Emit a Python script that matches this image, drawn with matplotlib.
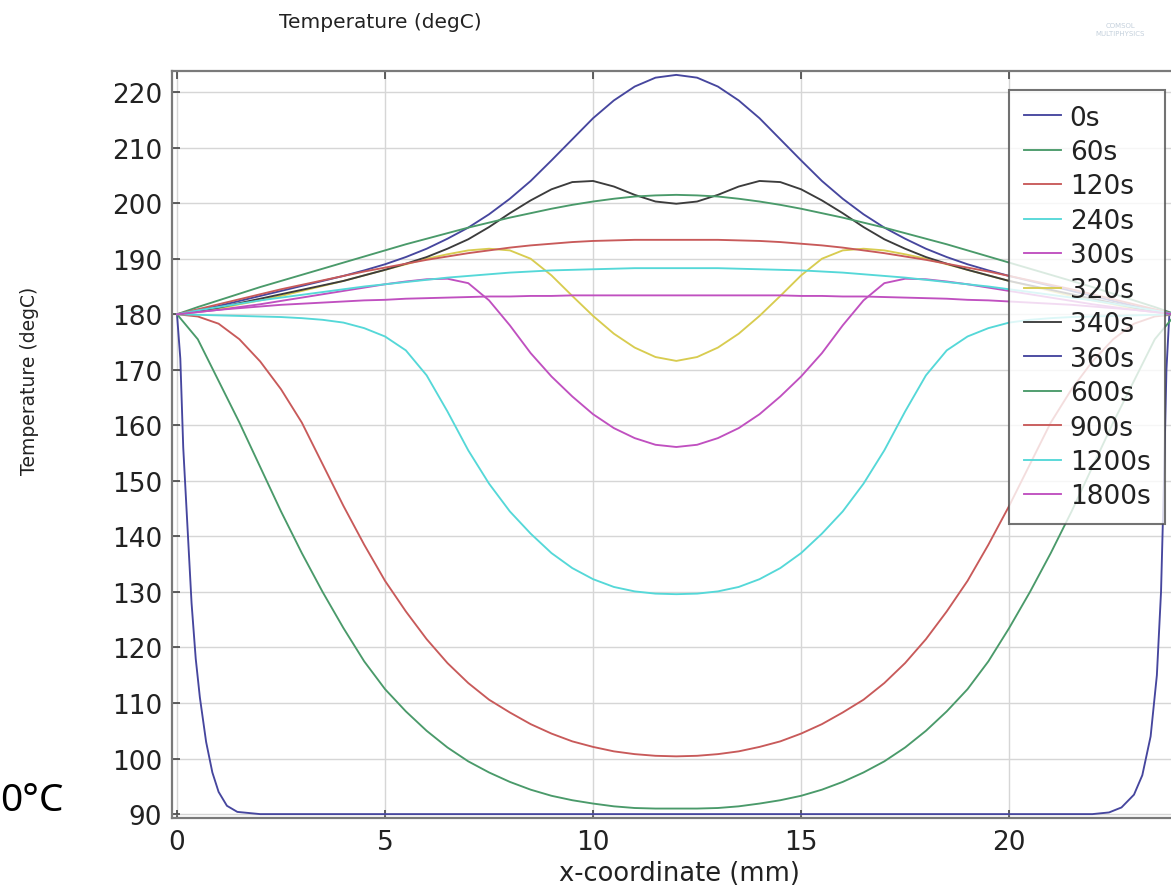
import matplotlib
matplotlib.use('Agg')
import matplotlib.pyplot as plt

# x positions (mm) shared by every profile except the initial one
x_mm = [0, 0.5, 1, 1.5, 2, 2.5, 3, 3.5, 4, 4.5, 5, 5.5, 6, 6.5, 7, 7.5, 8, 8.5, 9, 9.5,
        10, 10.5, 11, 11.5, 12, 12.5, 13, 13.5, 14, 14.5, 15, 15.5, 16, 16.5, 17, 17.5,
        18, 18.5, 19, 19.5, 20, 20.5, 21, 21.5, 22, 22.5, 23, 23.5, 24]

# initial profile (0s) has steep edges, so it gets its own x positions
x_0s = [0, 0.08, 0.15, 0.25, 0.35, 0.45, 0.55, 0.7, 0.85, 1.0, 1.2, 1.45, 2,
        22, 22.4, 22.7, 23.0, 23.2, 23.4, 23.55, 23.65, 23.72, 23.78, 23.85]
T_0s = [180, 172, 156, 142, 128, 118, 111, 103, 97.5, 94, 91.5, 90.4, 90,
        90, 90.3, 91.2, 93.5, 97, 104, 115, 130, 150, 170, 180]

T_60s = [180, 175.5, 168, 160.5, 152.5, 144.5, 137, 130, 123.5, 117.5, 112.5, 108.5, 105, 102,
         99.5, 97.5, 95.8, 94.4, 93.3, 92.5, 91.9, 91.4, 91.1, 91, 91,
         91, 91.1, 91.4, 91.9, 92.5, 93.3, 94.4, 95.8, 97.5, 99.5, 102, 105, 108.5, 112.5,
         117.5, 123.5, 130, 137, 144.5, 152.5, 160.5, 168, 175.5, 180]
T_120s = [180, 179.6, 178.3, 175.5, 171.5, 166.5, 160.5, 153, 145.5, 138.5, 132, 126.5, 121.5,
          117.2, 113.6, 110.6, 108.3, 106.2, 104.5, 103.1, 102.1, 101.3, 100.8, 100.5, 100.4,
          100.5, 100.8, 101.3, 102.1, 103.1, 104.5, 106.2, 108.3, 110.6, 113.6, 117.2, 121.5,
          126.5, 132, 138.5, 145.5, 153, 160.5, 166.5, 171.5, 175.5, 178.3, 179.6, 180]
T_240s = [180, 179.9, 179.8, 179.7, 179.6, 179.5, 179.3, 179, 178.5, 177.5, 176, 173.5, 169,
          162.5, 155.5, 149.5, 144.5, 140.5, 137, 134.3, 132.3, 130.9, 130.1, 129.7, 129.6,
          129.7, 130.1, 130.9, 132.3, 134.3, 137, 140.5, 144.5, 149.5, 155.5, 162.5, 169,
          173.5, 176, 177.5, 178.5, 179, 179.3, 179.5, 179.6, 179.7, 179.8, 179.9, 180]
T_300s = [180, 180.4, 180.8, 181.3, 181.8, 182.4, 183, 183.6, 184.2, 184.8, 185.4, 185.9, 186.3,
          186.4, 185.6, 182.5, 178, 173, 168.8, 165.2, 162, 159.5, 157.7, 156.5, 156.1,
          156.5, 157.7, 159.5, 162, 165.2, 168.8, 173, 178, 182.5, 185.6, 186.4, 186.3,
          185.9, 185.4, 184.8, 184.2, 183.6, 183, 182.4, 181.8, 181.3, 180.8, 180.4, 180]
T_320s = [180, 180.5, 181, 181.8, 182.5, 183.3, 184.2, 185.1, 186, 187, 188, 189, 190,
          190.8, 191.5, 191.8, 191.5, 190, 187, 183.3, 179.7, 176.5, 174, 172.3, 171.6,
          172.3, 174, 176.5, 179.7, 183.3, 187, 190, 191.5, 191.8, 191.5, 190.8, 190,
          189, 188, 187, 186, 185.1, 184.2, 183.3, 182.5, 181.8, 181, 180.5, 180]
T_340s = [180, 180.6, 181.2, 182, 182.8, 183.6, 184.4, 185.2, 186, 187, 188, 189.1, 190.3,
          191.8, 193.5, 195.7, 198.2, 200.5, 202.5, 203.8, 204, 203, 201.5, 200.3, 199.9,
          200.3, 201.5, 203, 204, 203.8, 202.5, 200.5, 198.2, 195.7, 193.5, 191.8, 190.3,
          189.1, 188, 187, 186, 185.2, 184.4, 183.6, 182.8, 182, 181.2, 180.6, 180]
T_360s = [180, 180.7, 181.5, 182.4, 183.3, 184.2, 185.1, 186, 186.9, 187.9, 189, 190.3, 191.8,
          193.6, 195.6, 198, 200.8, 204, 207.7, 211.5, 215.3, 218.5, 221, 222.6, 223.1,
          222.6, 221, 218.5, 215.3, 211.5, 207.7, 204, 200.8, 198, 195.6, 193.6, 191.8,
          190.3, 189, 187.9, 186.9, 186, 185.1, 184.2, 183.3, 182.4, 181.5, 180.7, 180]
T_600s = [180, 181.3, 182.5, 183.7, 184.9, 186, 187.1, 188.2, 189.3, 190.4, 191.5, 192.6, 193.6,
          194.6, 195.6, 196.5, 197.4, 198.2, 199, 199.7, 200.3, 200.8, 201.2, 201.4, 201.5,
          201.4, 201.2, 200.8, 200.3, 199.7, 199, 198.2, 197.4, 196.5, 195.6, 194.6, 193.6,
          192.6, 191.5, 190.4, 189.3, 188.2, 187.1, 186, 184.9, 183.7, 182.5, 181.3, 180]
T_900s = [180, 180.9, 181.8, 182.7, 183.6, 184.5, 185.3, 186.1, 186.9, 187.7, 188.4, 189.1, 189.8,
          190.4, 191, 191.5, 192, 192.4, 192.7, 193, 193.2, 193.3, 193.4, 193.4, 193.4,
          193.4, 193.4, 193.3, 193.2, 193, 192.7, 192.4, 192, 191.5, 191, 190.4, 189.8,
          189.1, 188.4, 187.7, 186.9, 186.1, 185.3, 184.5, 183.6, 182.7, 181.8, 180.9, 180]
T_1200s = [180, 180.7, 181.3, 181.9, 182.5, 183, 183.5, 184, 184.5, 185, 185.4, 185.8, 186.2,
           186.6, 186.9, 187.2, 187.5, 187.7, 187.9, 188, 188.1, 188.2, 188.3, 188.3, 188.3,
           188.3, 188.3, 188.2, 188.1, 188, 187.9, 187.7, 187.5, 187.2, 186.9, 186.6, 186.2,
           185.8, 185.4, 185, 184.5, 184, 183.5, 183, 182.5, 181.9, 181.3, 180.7, 180]
T_1800s = [180, 180.4, 180.8, 181.1, 181.4, 181.7, 181.9, 182.1, 182.3, 182.5, 182.6, 182.8, 182.9,
           183, 183.1, 183.2, 183.2, 183.3, 183.3, 183.4, 183.4, 183.4, 183.4, 183.4, 183.4,
           183.4, 183.4, 183.4, 183.4, 183.4, 183.3, 183.3, 183.2, 183.2, 183.1, 183, 182.9,
           182.8, 182.6, 182.5, 182.3, 182.1, 181.9, 181.7, 181.4, 181.1, 180.8, 180.4, 180]

labels = ['0s', '60s', '120s', '240s', '300s', '320s', '340s', '360s', '600s', '900s', '1200s', '1800s']
profiles = [T_60s, T_120s, T_240s, T_300s, T_320s, T_340s, T_360s, T_600s, T_900s, T_1200s, T_1800s]

# COMSOL style colour cycle
colors = ['#46469e', '#4a9a6a', '#c85a5a', '#55d8d8', '#c050c0', '#d8cc50', '#3c3c3c',
          '#46469e', '#4a9a6a', '#c85a5a', '#55d8d8', '#c050c0']

W, H = 1171, 887
fig = plt.figure(figsize=(W / 100, H / 100), dpi=100)
ax = fig.add_axes([172 / W, 1 - 819 / H, (1181 - 172) / W, (819 - 72) / H])

lines = []
ln, = ax.plot(x_0s, T_0s, color=colors[0], lw=1.35)
lines.append(ln)
for T, c in zip(profiles, colors[1:]):
    ln, = ax.plot(x_mm, T, color=c, lw=1.35)
    lines.append(ln)

ax.set_xlim(-0.12, 24.13)
ax.set_ylim(89.3, 223.8)
ax.set_xticks([0, 5, 10, 15, 20])
ax.set_yticks(range(90, 230, 10))
ax.grid(True, color='#d6d6d6', lw=1.0)
ax.set_axisbelow(True)
ax.tick_params(direction='in', top=True, right=True, length=6, width=1.2, color='#444444',
               labelsize=19, labelcolor='#222222')
ax.tick_params(axis='x', pad=8)
ax.tick_params(axis='y', pad=7)
for sp in ax.spines.values():
    sp.set_color('#7a7a7a')
    sp.set_linewidth(1.6)

leg = fig.legend(lines, labels, loc='upper right', bbox_to_anchor=(1165 / W, 1 - 91 / H),
                 fontsize=19, frameon=True, fancybox=False, handlelength=1.4,
                 handletextpad=0.35, labelspacing=0.32, borderpad=0.55, borderaxespad=0)
leg.get_frame().set_edgecolor('#505050')
leg.get_frame().set_linewidth(1.5)
for t in leg.get_texts():
    t.set_color('#222222')

fig.text(380 / W, 1 - 22 / H, 'Temperature (degC)', ha='center', va='center',
         fontsize=14.5, color='#222222')
fig.text(30 / W, 1 - 381 / H, 'Temperature (degC)', ha='center', va='center',
         rotation=90, fontsize=13.5, color='#222222')
fig.text(679 / W, 6 / H, 'x-coordinate (mm)', ha='center', va='baseline',
         fontsize=18.5, color='#222222')
fig.text(0, 1 - 801 / H, '0°C', ha='left', va='center', fontsize=28,
         family='Noto Sans', color='black')
fig.text(1120 / W, 1 - 30 / H, 'COMSOL\nMULTIPHYSICS', ha='center', va='center',
         fontsize=5, color='#c4d0dc')

fig.savefig('out.png', dpi=100)
